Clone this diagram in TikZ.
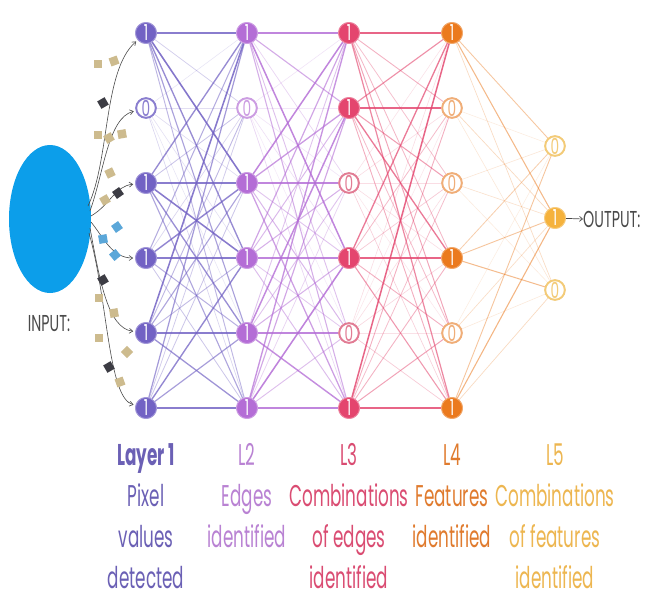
\documentclass[tikz,border=0pt]{standalone}
\usepackage{fontspec}
\setmainfont{Poppins}[FakeStretch=0.62]
\newfontfamily\lblfont{Poppins}[FakeStretch=0.56]
\usetikzlibrary{shapes.geometric,arrows.meta}
\definecolor{cA}{HTML}{7262C4}
\definecolor{cB}{HTML}{B46DD6}
\definecolor{cC}{HTML}{E4456E}
\definecolor{cD}{HTML}{EB7A1E}
\definecolor{cE}{HTML}{F5B23C}
\definecolor{cAz}{HTML}{8A7ECF}
\definecolor{cBz}{HTML}{CC9DE2}
\definecolor{cCz}{HTML}{E27C94}
\definecolor{cDz}{HTML}{F0AE78}
\definecolor{cEz}{HTML}{F3CB78}
\definecolor{tA}{HTML}{6B60B5}
\definecolor{tB}{HTML}{B982D3}
\definecolor{tC}{HTML}{DA4C72}
\definecolor{tD}{HTML}{E07B2E}
\definecolor{tE}{HTML}{EDB650}
\definecolor{inblue}{HTML}{0C9EEA}
\definecolor{tan}{HTML}{CDBB8E}
\definecolor{darksq}{HTML}{3C3C44}
\definecolor{bluesq}{HTML}{5BA7D9}
\definecolor{txtgray}{HTML}{4A4A4A}
\tikzset{
  one/.style={circle, minimum size=21pt, inner sep=0pt, fill=#1, draw=#1!65!white, line width=0.8pt, text=white, font=\fontsize{22}{22}\selectfont},
  zero/.style={circle, minimum size=19.5pt, inner sep=0pt, fill=white, draw=#1, line width=1.8pt, text=#1, font=\fontsize{22}{22}\selectfont},
  lbl/.style={anchor=base, inner sep=0pt, text=#1, font=\lblfont\fontsize{30}{32}\selectfont},
  sq/.style={minimum size=8.5pt, inner sep=0pt, fill=#1},
  inarrow/.style={draw=txtgray, line width=0.6pt, -{Straight Barb[length=3.5pt,width=5pt]}, shorten >=2pt},
  side/.style={inner sep=0pt, text=txtgray, font=\fontsize{23}{23}\selectfont}
}
\newcommand\edgeset[7]{%
  \foreach \i/\vi in {#4}{\foreach \j/\vj in {#5}{%
    \pgfmathsetmacro\rr{mod(\i*37+\j*17+#6,23)/22}%
    \pgfmathsetmacro\ss{(\vi*(0.3+0.6*\rr)+(1-\vi)*(0.06+0.14*\rr))*(0.55+0.45*\vj)}%
    \pgfmathsetmacro\hb{#7*(\i==\j)*\vi}%
    \pgfmathsetmacro\ss{\hb*max(\ss,0.85)+(1-\hb)*\ss}%
    \pgfmathsetmacro\op{0.12+0.83*\ss}%
    \pgfmathsetmacro\lw{0.4+1.3*\ss}%
    \draw[draw=#3, draw opacity=\op, line width=\lw pt] (#1-\i) -- (#2-\j);
  }}}
\begin{document}
\begin{tikzpicture}[x=1pt,y=-1pt]
\useasboundingbox (0,0) rectangle (645,602);
\fill[white] (0,0) rectangle (645,602);

% node placement (names)
\foreach \n/\c/\s/\x/\y/\t in {
  L1-1/cA/one/146/33/1, L1-2/cAz/zero/146/108/0, L1-3/cA/one/146/183/1, L1-4/cA/one/146/258/1, L1-5/cA/one/146/333/1, L1-6/cA/one/146/408/1,
  L2-1/cB/one/247/33/1, L2-2/cBz/zero/247/108/0, L2-3/cB/one/247/183/1, L2-4/cB/one/247/258/1, L2-5/cB/one/247/333/1, L2-6/cB/one/247/408/1,
  L3-1/cC/one/349/33/1, L3-2/cC/one/349/108/1, L3-3/cCz/zero/349/183/0, L3-4/cC/one/349/258/1, L3-5/cCz/zero/349/333/0, L3-6/cC/one/349/408/1,
  L4-1/cD/one/452/33/1, L4-2/cDz/zero/452/108/0, L4-3/cDz/zero/452/183/0, L4-4/cD/one/452/258/1, L4-5/cDz/zero/452/333/0, L4-6/cD/one/452/408/1,
  L5-1/cEz/zero/555/146/0, L5-2/cE/one/555/218/1, L5-3/cEz/zero/555/290/0}
  {\node[\s=\c] (\n) at (\x,\y) {\t};}

% edges
\edgeset{L1}{L2}{cA}{1/1,2/0,3/1,4/1,5/1,6/1}{1/1,2/0,3/1,4/1,5/1,6/1}{3}{1}
\edgeset{L2}{L3}{cB}{1/1,2/0,3/1,4/1,5/1,6/1}{1/1,2/1,3/0,4/1,5/0,6/1}{7}{1}
\edgeset{L3}{L4}{cC}{1/1,2/1,3/0,4/1,5/0,6/1}{1/1,2/0,3/0,4/1,5/0,6/1}{11}{1}
\edgeset{L4}{L5}{cD}{1/1,2/0,3/0,4/1,5/0,6/1}{1/0,2/1,3/0}{5}{0}

% nodes on top
\foreach \n/\c/\s/\x/\y/\t in {
  L1-1/cA/one/146/33/1, L1-2/cAz/zero/146/108/0, L1-3/cA/one/146/183/1, L1-4/cA/one/146/258/1, L1-5/cA/one/146/333/1, L1-6/cA/one/146/408/1,
  L2-1/cB/one/247/33/1, L2-2/cBz/zero/247/108/0, L2-3/cB/one/247/183/1, L2-4/cB/one/247/258/1, L2-5/cB/one/247/333/1, L2-6/cB/one/247/408/1,
  L3-1/cC/one/349/33/1, L3-2/cC/one/349/108/1, L3-3/cCz/zero/349/183/0, L3-4/cC/one/349/258/1, L3-5/cCz/zero/349/333/0, L3-6/cC/one/349/408/1,
  L4-1/cD/one/452/33/1, L4-2/cDz/zero/452/108/0, L4-3/cDz/zero/452/183/0, L4-4/cD/one/452/258/1, L4-5/cDz/zero/452/333/0, L4-6/cD/one/452/408/1,
  L5-1/cEz/zero/555/146/0, L5-2/cE/one/555/218/1, L5-3/cEz/zero/555/290/0}
  {\node[\s=\c] (\n) at (\x,\y) {\t};}

% input
\node[ellipse, fill=inblue, minimum width=82pt, minimum height=148pt, inner sep=0pt] (inp) at (50,219) {};
\node[side] (intxt) at (49,324) {INPUT:};
\coordinate (s1) at (88,206);
\coordinate (s2) at (90,211);
\coordinate (s3) at (91,216);
\coordinate (s4) at (91,222);
\coordinate (s5) at (90,228);
\coordinate (s6) at (89,233);
\draw[inarrow] (s1) .. controls (110,160) and (103,70) .. (L1-1);
\draw[inarrow] (s2) .. controls (104,172) and (108,118) .. (L1-2);
\draw[inarrow] (s3) .. controls (110,205) and (115,186) .. (L1-3);
\draw[inarrow] (s4) .. controls (104,238) and (112,258) .. (L1-4);
\draw[inarrow] (s5) .. controls (100,282) and (108,328) .. (L1-5);
\draw[inarrow] (s6) .. controls (108,300) and (108,398) .. (L1-6);

% squares
\node[sq=tan, rotate=0]     (q1)  at (98,64)  {};
\node[sq=tan, rotate=20]    (q2)  at (114,61) {};
\node[sq=darksq, rotate=30] (q3)  at (103,103) {};
\node[sq=tan, rotate=0]     (q4)  at (98,135) {};
\node[sq=tan, rotate=30]    (q5)  at (109,138) {};
\node[sq=tan, rotate=10]    (q6)  at (122,134) {};
\node[sq=tan, rotate=25]    (q7)  at (110,173) {};
\node[sq=darksq, rotate=35] (q8)  at (118,193) {};
\node[sq=tan, rotate=30]    (q9)  at (105,200) {};
\node[sq=bluesq, rotate=35] (q10) at (117,227) {};
\node[sq=bluesq, rotate=10] (q11) at (103,239) {};
\node[sq=bluesq, rotate=40] (q12) at (115,255) {};
\node[sq=darksq, rotate=30] (q13) at (103,280) {};
\node[sq=tan, rotate=0]     (q14) at (99,298) {};
\node[sq=tan, rotate=10]    (q15) at (114,313) {};
\node[sq=tan, rotate=0]     (q16) at (99,338) {};
\node[sq=tan, rotate=45]    (q17) at (127,352) {};
\node[sq=darksq, rotate=30] (q18) at (109,367) {};
\node[sq=tan, rotate=20]    (q19) at (120,382) {};

% output
\node[side, anchor=west] (outtxt) at (583,219) {OUTPUT:};
\draw[draw=txtgray, line width=0.7pt, -{Straight Barb[length=3pt,width=5pt]}] (L5-2) -- (outtxt.west);

% labels
\node[lbl=tA] (a0) at (146,465) {\bfseries Layer 1};
\node[lbl=tA] (a1) at (146,506) {Pixel};
\node[lbl=tA] (a2) at (146,547) {values};
\node[lbl=tA] (a3) at (146,588) {detected};
\node[lbl=tB] (b0) at (247,465) {L2};
\node[lbl=tB] (b1) at (247,506) {Edges};
\node[lbl=tB] (b2) at (247,547) {identified};
\node[lbl=tC] (c0) at (349,465) {L3};
\node[lbl=tC] (c1) at (349,506) {Combinations};
\node[lbl=tC] (c2) at (349,547) {of edges};
\node[lbl=tC] (c3) at (349,588) {identified};
\node[lbl=tD] (d0) at (452,465) {L4};
\node[lbl=tD] (d1) at (452,506) {Features};
\node[lbl=tD] (d2) at (452,547) {identified};
\node[lbl=tE] (e0) at (555,465) {L5};
\node[lbl=tE] (e1) at (555,506) {Combinations};
\node[lbl=tE] (e2) at (555,547) {of features};
\node[lbl=tE] (e3) at (555,588) {identified};
\end{tikzpicture}
\end{document}
